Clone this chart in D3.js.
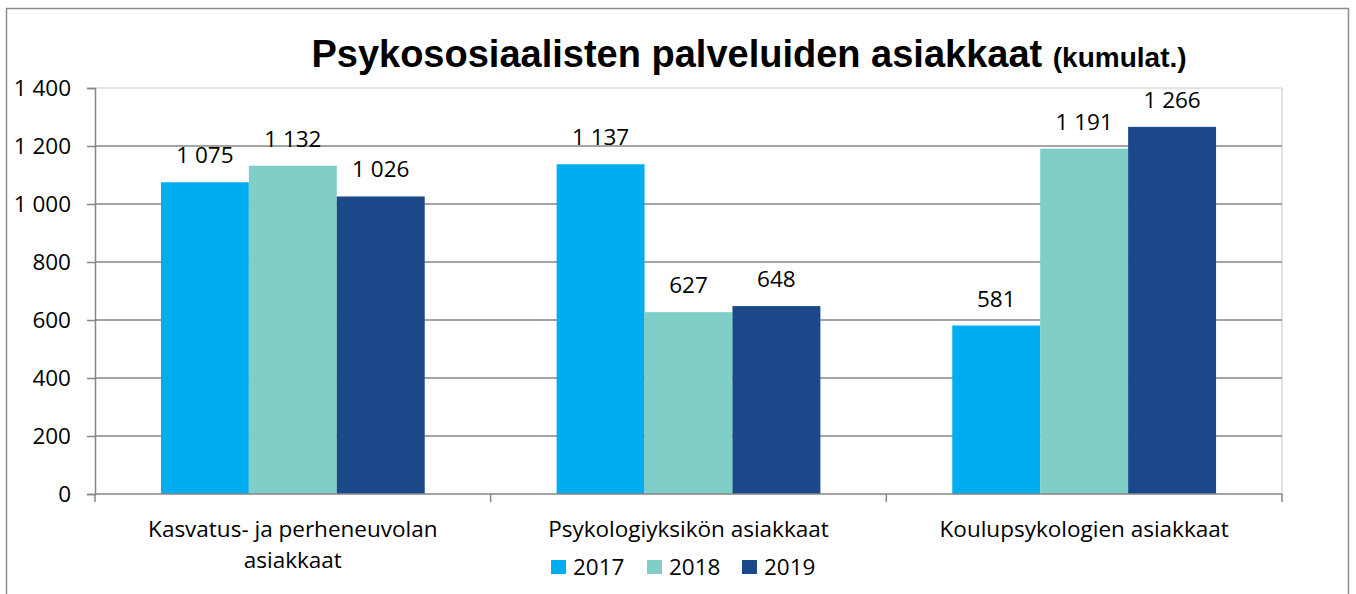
<!DOCTYPE html>
<html>
<head>
<meta charset="utf-8">
<script src="https://cdn.jsdelivr.net/npm/d3@7"></script>
<style>
  body { margin: 0; background: #fff; }
  svg text { font-family: "Open Sans", Lato, sans-serif; }
</style>
</head>
<body>
<svg id="chart" width="1356" height="594"></svg>
<script>
// Chart data
const categories = [
  ['Kasvatus- ja perheneuvolan', 'asiakkaat'],
  ['Psykologiyksikön asiakkaat'],
  ['Koulupsykologien asiakkaat']
];
const years = ['2017', '2018', '2019'];
const values2017 = [1075, 1137, 581];
const values2018 = [1132, 627, 1191];
const values2019 = [1026, 648, 1266];
const yTicks = [0, 200, 400, 600, 800, 1000, 1200, 1400];
const colors = ['#00adef', '#7fcec8', '#1a4888'];

const series = [values2017, values2018, values2019];
const fmt = d => d3.format(',')(d).replace(/,/g, ' ');
const FONT_SIZE = '22.5px';

const svg = d3.select('#chart');
const plot = { left: 95, right: 1282, top: 88, bottom: 494 };

// Outer frame
svg.append('rect')
  .attr('x', 6.5).attr('y', 8.5)
  .attr('width', 1342).attr('height', 600)
  .attr('fill', 'none')
  .attr('stroke', '#8c8c8c')
  .attr('stroke-width', 1.5);

// Scales
const y = d3.scaleLinear().domain([0, 1400]).range([plot.bottom, plot.top]);
const x0 = d3.scaleBand().domain(d3.range(categories.length)).range([plot.left, plot.right]);
// gap width 150% -> outer padding 0.75 of a bar on each side
const x1 = d3.scaleBand().domain(d3.range(years.length))
  .range([0, x0.bandwidth()]).paddingInner(0).paddingOuter(0.75);

// Plot area border (top & right light)
svg.append('line')
  .attr('x1', plot.left).attr('x2', plot.right)
  .attr('y1', plot.top).attr('y2', plot.top)
  .attr('stroke', '#d9d9d9').attr('stroke-width', 1.5);
svg.append('line')
  .attr('x1', plot.right).attr('x2', plot.right)
  .attr('y1', plot.top).attr('y2', plot.bottom)
  .attr('stroke', '#d9d9d9').attr('stroke-width', 1.5);

// Gridlines
svg.selectAll('.grid')
  .data(yTicks.filter(t => t > 0 && t < 1400))
  .enter().append('line')
  .attr('class', 'grid')
  .attr('x1', plot.left).attr('x2', plot.right)
  .attr('y1', d => y(d)).attr('y2', d => y(d))
  .attr('stroke', '#868686').attr('stroke-width', 1.5);

// Bars
const groups = svg.selectAll('.group')
  .data(categories)
  .enter().append('g')
  .attr('class', 'group')
  .attr('transform', (d, i) => `translate(${x0(i)},0)`);

groups.each(function(cat, ci) {
  const g = d3.select(this);
  series.forEach((vals, si) => {
    g.append('rect')
      .attr('x', x1(si))
      .attr('y', y(vals[ci]))
      .attr('width', x1.bandwidth())
      .attr('height', y(0) - y(vals[ci]))
      .attr('fill', colors[si]);
    g.append('text')
      .attr('x', x1(si) + x1.bandwidth() / 2)
      .attr('y', y(vals[ci]) - 19)
      .attr('text-anchor', 'middle')
      .style('font-size', FONT_SIZE)
      .style('fill', '#000')
      .text(fmt(vals[ci]));
  });
});

// Y axis
const yAxis = d3.axisLeft(y)
  .tickValues(yTicks)
  .tickSize(8)
  .tickPadding(16)
  .tickFormat(fmt);
const yG = svg.append('g')
  .attr('transform', `translate(${plot.left},0)`)
  .call(yAxis);
yG.select('.domain').attr('stroke', '#868686').attr('stroke-width', 1.5);
yG.selectAll('.tick line').attr('stroke', '#868686').attr('stroke-width', 1.5);
yG.selectAll('.tick text')
  .style('font-size', FONT_SIZE)
  .style('fill', '#000')
  .style('font-family', '"Open Sans", sans-serif');

// X axis line and category ticks
svg.append('line')
  .attr('x1', plot.left).attr('x2', plot.right)
  .attr('y1', plot.bottom).attr('y2', plot.bottom)
  .attr('stroke', '#868686').attr('stroke-width', 1.5);
svg.selectAll('.xtick')
  .data(d3.range(categories.length + 1))
  .enter().append('line')
  .attr('class', 'xtick')
  .attr('x1', d => plot.left + d * x0.bandwidth())
  .attr('x2', d => plot.left + d * x0.bandwidth())
  .attr('y1', plot.bottom).attr('y2', plot.bottom + 8)
  .attr('stroke', '#868686').attr('stroke-width', 1.5);

// Category labels
categories.forEach((lines, i) => {
  const t = svg.append('text')
    .attr('x', x0(i) + x0.bandwidth() / 2)
    .attr('y', 537)
    .attr('text-anchor', 'middle')
    .style('font-size', FONT_SIZE)
    .style('fill', '#000');
  lines.forEach((line, li) => {
    t.append('tspan')
      .attr('x', x0(i) + x0.bandwidth() / 2)
      .attr('dy', li === 0 ? 0 : 31)
      .text(line);
  });
});

// Legend
const legendX = [551, 647, 742];
years.forEach((yr, i) => {
  svg.append('rect')
    .attr('x', legendX[i]).attr('y', 560)
    .attr('width', 15).attr('height', 14)
    .attr('fill', colors[i]);
  svg.append('text')
    .attr('x', legendX[i] + 22).attr('y', 575)
    .style('font-size', FONT_SIZE)
    .style('fill', '#000')
    .text(yr);
});

// Title
const title = svg.append('text')
  .attr('x', 749)
  .attr('y', 67)
  .attr('text-anchor', 'middle')
  .style('font-family', '"Liberation Sans", Arial, sans-serif')
  .style('font-weight', 'bold')
  .style('fill', '#000');
title.append('tspan').style('font-size', '38px').text('Psykososiaalisten palveluiden asiakkaat ');
title.append('tspan').style('font-size', '28px').text('(kumulat.)');
</script>
</body>
</html>
